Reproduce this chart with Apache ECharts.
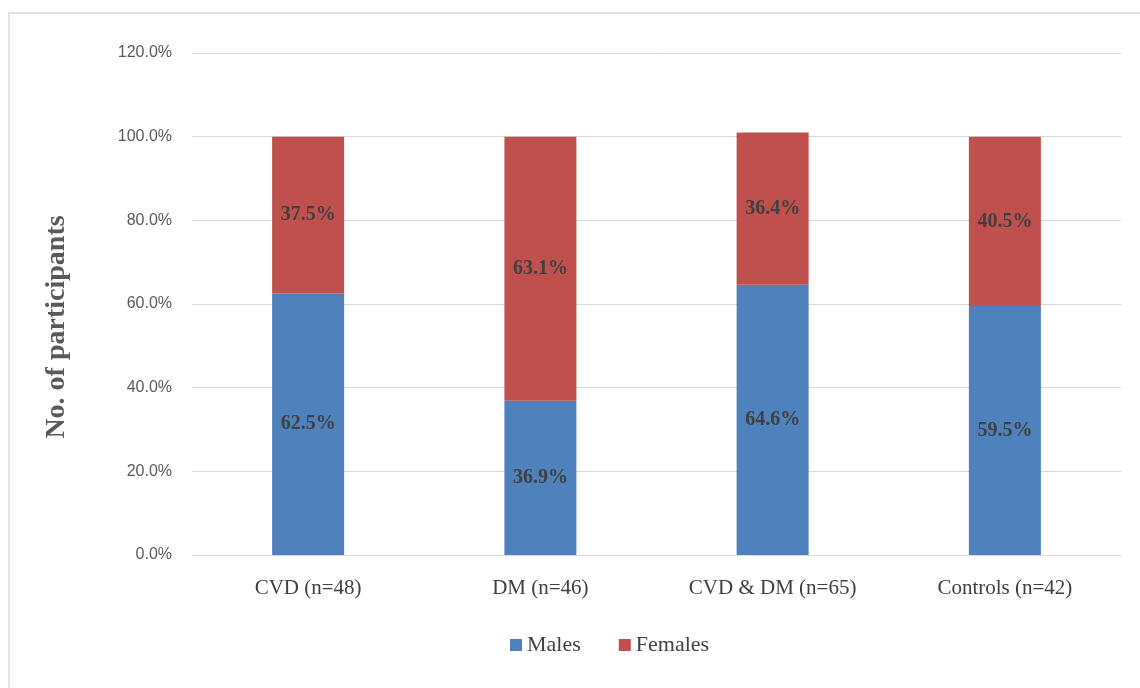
<!DOCTYPE html>
<html>
<head>
<meta charset="utf-8">
<script src="https://cdn.jsdelivr.net/npm/echarts@6/dist/echarts.min.js"></script>
<style>
  html, body { margin: 0; padding: 0; background: #ffffff; }
  #frame { position: absolute; left: 8px; top: 12px; width: 1140px; height: 690px; border-left: 2px solid #e3e3e3; border-top: 2px solid #e3e3e3; box-sizing: border-box; }
  #chart { position: absolute; left: 0; top: 0; width: 1140px; height: 688px; }
</style>
</head>
<body>
<div id="frame"></div>
<div id="chart"></div>
<script>
// Participant groups and sex distribution (percent of each group)
const categories = ['CVD (n=48)', 'DM (n=46)', 'CVD & DM (n=65)', 'Controls (n=42)'];
const males = [62.5, 36.9, 64.6, 59.5];
const females = [37.5, 63.1, 36.4, 40.5];
const yTicks = [0, 20, 40, 60, 80, 100, 120];

const serif = '"Liberation Serif", "DejaVu Serif", serif';
const sans = '"Liberation Sans", Arial, sans-serif';

const chart = echarts.init(document.getElementById('chart'), null, { renderer: 'canvas' });

const labelStyle = {
  show: true,
  position: 'inside',
  formatter: p => p.value.toFixed(1) + '%',
  fontFamily: serif,
  fontWeight: 'bold',
  fontSize: 20,
  color: '#404040'
};

chart.setOption({
  animation: false,
  backgroundColor: 'transparent',
  grid: { left: 192, right: 19, top: 53, bottom: 133 },
  legend: {
    bottom: 27,
    left: 505,
    icon: 'rect',
    itemWidth: 12,
    itemHeight: 12,
    itemGap: 38,
    textStyle: { fontFamily: serif, fontSize: 22, color: '#404040' },
    data: ['Males', 'Females']
  },
  xAxis: {
    type: 'category',
    data: categories,
    axisLine: { lineStyle: { color: '#d9d9d9', width: 1 } },
    axisTick: { show: false },
    axisLabel: { fontFamily: serif, fontSize: 21, color: '#404040', margin: 23 }
  },
  yAxis: {
    type: 'value',
    min: yTicks[0],
    max: yTicks[yTicks.length - 1],
    interval: yTicks[1] - yTicks[0],
    axisLine: { show: false },
    axisTick: { show: false },
    splitLine: { lineStyle: { color: '#d9d9d9', width: 1 } },
    axisLabel: {
      fontFamily: sans,
      fontSize: 16,
      color: '#595959',
      margin: 20,
      formatter: v => v.toFixed(1) + '%'
    }
  },
  graphic: [{
    type: 'text',
    x: 57,
    y: 327,
    rotation: Math.PI / 2,
    style: {
      text: 'No. of participants',
      fontFamily: serif,
      fontWeight: 'bold',
      fontSize: 28,
      fill: '#595959',
      align: 'center',
      verticalAlign: 'middle'
    }
  }],
  series: [
    {
      name: 'Males',
      type: 'bar',
      stack: 'total',
      barWidth: 72,
      data: males,
      itemStyle: { color: '#4f81bd' },
      label: labelStyle
    },
    {
      name: 'Females',
      type: 'bar',
      stack: 'total',
      barWidth: 72,
      data: females,
      itemStyle: { color: '#c0504d' },
      label: labelStyle
    }
  ]
});
</script>
</body>
</html>
